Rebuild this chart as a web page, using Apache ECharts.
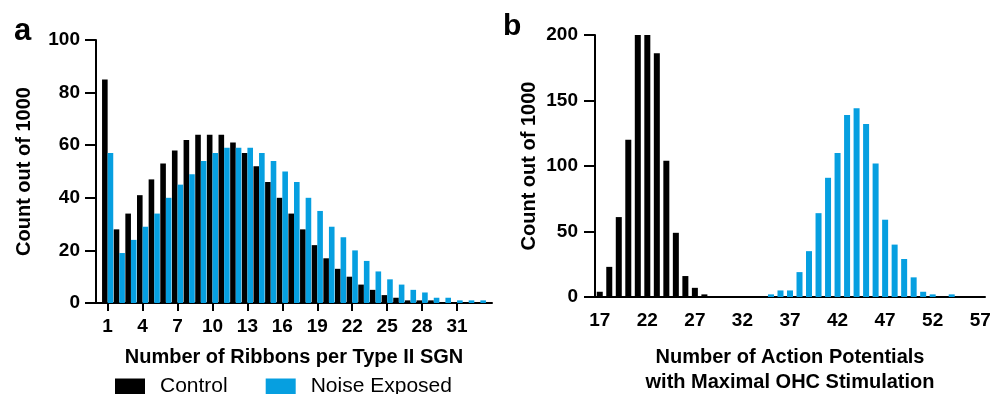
<!DOCTYPE html>
<html>
<head>
<meta charset="utf-8">
<script src="https://cdn.jsdelivr.net/npm/echarts@6/dist/echarts.min.js"></script>
<style>
  html, body { margin: 0; background: #fff; }
  #chart { width: 992px; height: 394px; }
</style>
</head>
<body>
<div id="chart"></div>
<script>
// panel a: ribbons per type II SGN
const ribbons = [1, 2, 3, 4, 5, 6, 7, 8, 9, 10, 11, 12, 13, 14, 15, 16, 17, 18, 19, 20, 21, 22, 23, 24, 25, 26, 27, 28, 29, 30, 31, 32, 33]
const ribbonsControl = [85, 28, 34, 41, 47, 53, 58, 62, 64, 64, 64, 61, 57, 52, 46, 40, 34, 28, 22, 17, 13, 10, 7, 5, 3, 2, 1, 1, 1, 0, 0, 0, 0]
const ribbonsNoise = [57, 19, 24, 29, 34, 40, 45, 49, 54, 57, 59, 59, 59, 57, 54, 50, 46, 40, 35, 29, 25, 20, 16, 12, 9, 7, 5, 4, 2, 2, 1, 1, 1]
const ribbonTicks = [1, 4, 7, 10, 13, 16, 19, 22, 25, 28, 31]

// panel b: action potentials with maximal OHC stimulation
const apCounts = [17, 18, 19, 20, 21, 22, 23, 24, 25, 26, 27, 28, 29, 30, 31, 32, 33, 34, 35, 36, 37, 38, 39, 40, 41, 42, 43, 44, 45, 46, 47, 48, 49, 50, 51, 52, 53, 54, 55, 56, 57]
const apControl = [4, 23, 61, 120, 200, 200, 186, 104, 49, 16, 7, 2, 0, 0, 0, 0, 0, 0, 0, 0, 0, 0, 0, 0, 0, 0, 0, 0, 0, 0, 0, 0, 0, 0, 0, 0, 0, 0, 0, 0, 0]
const apNoise = [0, 0, 0, 0, 0, 0, 0, 0, 0, 0, 0, 0, 0, 0, 0, 0, 0, 0, 2, 5, 5, 19, 35, 64, 91, 110, 139, 144, 132, 102, 59, 40, 29, 15, 4, 2, 0, 2, 0, 0, 0]

const BLACK = '#000000'
const BLUE = '#069fe0'
const FONT = "'Liberation Sans', Arial, Helvetica, sans-serif"

// pad panel a with an empty slot at both ends so the axis runs 0..34
const catsA = [0, ...ribbons, 34].map(String)
const pad = (arr) => [null, ...arr, null]
const showRibbonTick = (index, value) => ribbonTicks.includes(Number(value))

const axisLine = { lineStyle: { color: BLACK, width: 2 } }
const tickLabel = { color: BLACK, fontSize: 19, fontWeight: 'bold', fontFamily: FONT }
const nameStyle = { color: BLACK, fontSize: 20, fontWeight: 'bold', fontFamily: FONT }

const chart = echarts.init(document.getElementById('chart'))

const option = {
  animation: false,
  textStyle: { fontFamily: FONT },
  graphic: [
    { type: 'text', left: 14, top: 16, style: { text: 'a', font: `bold 31px ${FONT}`, fill: BLACK } },
    { type: 'text', left: 503, top: 12, style: { text: 'b', font: `bold 30px ${FONT}`, fill: BLACK } },
  ],
  legend: {
    data: ['Control', 'Noise Exposed'],
    left: 115,
    top: 376,
    padding: 0,
    icon: 'rect',
    itemWidth: 30,
    itemHeight: 16,
    itemGap: 38,
    textStyle: { color: BLACK, fontSize: 21, fontFamily: FONT, padding: [0, 0, 0, 10] },
  },
  grid: [
    { left: 96, top: 40, width: 396, height: 263, outerBoundsMode: 'none' },
    { left: 595, top: 35, width: 390, height: 262, outerBoundsMode: 'none' },
  ],
  xAxis: [
    {
      gridIndex: 0,
      type: 'category',
      data: catsA,
      boundaryGap: false,
      axisLine,
      axisTick: { interval: showRibbonTick, length: 8, lineStyle: { color: BLACK, width: 2 } },
      axisLabel: { ...tickLabel, interval: showRibbonTick, margin: 14 },
      name: 'Number of Ribbons per Type II SGN',
      nameLocation: 'middle',
      nameGap: 44,
      nameTextStyle: nameStyle,
    },
    {
      gridIndex: 1,
      type: 'category',
      data: apCounts.map(String),
      axisLine,
      axisTick: { alignWithLabel: true, interval: 4, length: 8, lineStyle: { color: BLACK, width: 2 } },
      axisLabel: { ...tickLabel, interval: 4, margin: 14 },
      name: 'Number of Action Potentials\nwith Maximal OHC Stimulation',
      nameLocation: 'middle',
      nameGap: 48,
      nameTextStyle: { ...nameStyle, lineHeight: 25 },
    },
  ],
  yAxis: [
    {
      gridIndex: 0,
      type: 'value',
      min: 0,
      max: 100,
      interval: 20,
      axisLine: { show: true, ...axisLine },
      axisTick: { show: true, length: 11, lineStyle: { color: BLACK, width: 2 } },
      splitLine: { show: false },
      axisLabel: { ...tickLabel, margin: 16 },
      name: 'Count out of 1000',
      nameLocation: 'middle',
      nameGap: 62,
      nameTextStyle: nameStyle,
    },
    {
      gridIndex: 1,
      type: 'value',
      min: 0,
      max: 200,
      interval: 50,
      axisLine: { show: true, ...axisLine },
      axisTick: { show: true, length: 11, lineStyle: { color: BLACK, width: 2 } },
      splitLine: { show: false },
      axisLabel: { ...tickLabel, margin: 17 },
      name: 'Count out of 1000',
      nameLocation: 'middle',
      nameGap: 56,
      nameTextStyle: nameStyle,
    },
  ],
  series: [
    {
      name: 'Control',
      type: 'bar',
      xAxisIndex: 0,
      yAxisIndex: 0,
      data: pad(ribbonsControl),
      barWidth: 5.6,
      barGap: '0%',
      itemStyle: { color: BLACK },
    },
    {
      name: 'Noise Exposed',
      type: 'bar',
      xAxisIndex: 0,
      yAxisIndex: 0,
      data: pad(ribbonsNoise),
      barWidth: 5.6,
      barGap: '0%',
      itemStyle: { color: BLUE },
    },
    {
      name: 'Control',
      type: 'bar',
      xAxisIndex: 1,
      yAxisIndex: 1,
      data: apControl,
      barWidth: 6,
      barGap: '-100%',
      itemStyle: { color: BLACK },
    },
    {
      name: 'Noise Exposed',
      type: 'bar',
      xAxisIndex: 1,
      yAxisIndex: 1,
      data: apNoise,
      barWidth: 6,
      barGap: '-100%',
      itemStyle: { color: BLUE },
    },
  ],
}

chart.setOption(option)
</script>
</body>
</html>
